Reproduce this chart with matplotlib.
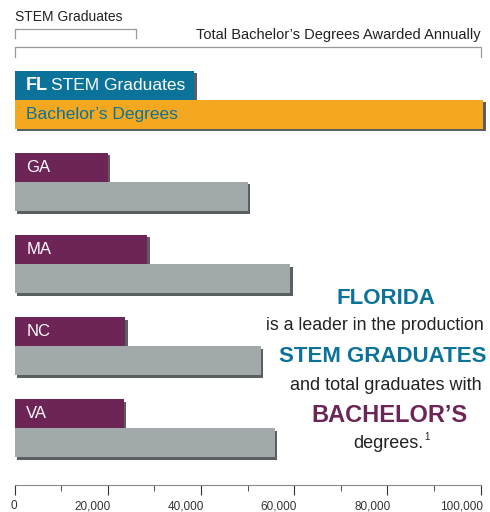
import matplotlib.pyplot as plt
import matplotlib.patheffects as pe
from matplotlib.transforms import blended_transform_factory, ScaledTranslation
from matplotlib.ticker import MultipleLocator, FuncFormatter

plt.rcParams['font.family'] = ['Liberation Sans Narrow', 'Liberation Sans', 'DejaVu Sans']

# data
states = ['FL', 'GA', 'MA', 'NC', 'VA']
stem = [38600, 20000, 28500, 23800, 23400]
bachelors = [100600, 50000, 59200, 52800, 55800]

teal = '#0b7399'
orange = '#f4a81f'
purple = '#6d2557'
gray = '#a2a9ab'
shadow = [pe.SimplePatchShadow(offset=(1.6, -1.6), shadow_rgbFace='#5a5f62', alpha=1), pe.Normal()]

fig = plt.figure(figsize=(4.9, 5.12), dpi=100)
ax = fig.add_axes([14.5 / 490, 1 - 485 / 512, 466 / 490, 425 / 512])

h = 0.354
for i, s in enumerate(states):
    c1 = teal if i == 0 else purple
    c2 = orange if i == 0 else gray
    b1 = ax.barh(i - h / 2, stem[i], height=h, color=c1, clip_on=False)
    b2 = ax.barh(i + h / 2, bachelors[i], height=h, color=c2, clip_on=False)
    for b in list(b1) + list(b2):
        b.set_path_effects(shadow)

ax.text(2500, -h / 2, 'FL', color='white', fontsize=13, fontweight='bold', va='center')
ax.text(7800, -h / 2, 'STEM Graduates', color='white', fontsize=12.5, va='center')
ax.text(2500, h / 2, 'Bachelor\u2019s Degrees', color=teal, fontsize=12.5, va='center')
for i, s in enumerate(states[1:], start=1):
    ax.text(2500, i - h / 2, s, color='white', fontsize=12, va='center')

ax.set_xlim(0, 100000)
ax.set_ylim(4.69, -0.49)
for sp in ['top', 'right', 'left']:
    ax.spines[sp].set_visible(False)
ax.spines['bottom'].set_color('#8a8a8a')
ax.set_yticks([])
ax.xaxis.set_major_locator(MultipleLocator(20000))
ax.xaxis.set_minor_locator(MultipleLocator(10000))
ax.xaxis.set_major_formatter(FuncFormatter(lambda v, p: f'{int(v):,}'))
ax.tick_params(axis='x', which='major', length=7, color='#333333', labelsize=8.5,
               labelcolor='#333333', pad=4)
ax.tick_params(axis='x', which='minor', length=4, color='#333333')
for lab in ax.get_xticklabels():
    lab.set_horizontalalignment('right')
    lab.set_transform(lab.get_transform() + ScaledTranslation(3 / 100, 0, fig.dpi_scale_trans))

# brackets on top
tr = blended_transform_factory(ax.transData, fig.transFigure)
def fy(p):
    return 1 - p / 512
ax.plot([0, 0, 26000, 26000], [fy(38), fy(29), fy(29), fy(38)], transform=tr,
        color='#999999', lw=0.9, clip_on=False)
ax.plot([0, 0, 100000, 100000], [fy(57), fy(47), fy(47), fy(57)], transform=tr,
        color='#999999', lw=0.9, clip_on=False)
ax.text(0, fy(17), 'STEM Graduates', transform=tr, fontsize=10, color='#222222', va='center')
ax.text(100000, fy(35), 'Total Bachelor\u2019s Degrees Awarded Annually', transform=tr,
        fontsize=10.5, color='#222222', va='center', ha='right')

# callout
cx = 386 / 490
fig.text(cx, fy(298), 'FLORIDA', color=teal, fontsize=16, fontweight='bold', ha='center', va='center')
fig.text(375 / 490, fy(326), 'is a leader in the production', color='#222222', fontsize=12.8, ha='center', va='center')
fig.text(383 / 490, fy(356), 'STEM GRADUATES', color=teal, fontsize=16, fontweight='bold', ha='center', va='center')
fig.text(cx, fy(386), 'and total graduates with', color='#222222', fontsize=13, ha='center', va='center')
fig.text(389 / 490, fy(416), 'BACHELOR\u2019S', color=purple, fontsize=17, fontweight='bold', ha='center', va='center')
fig.text(388 / 490, fy(444), 'degrees.', color='#222222', fontsize=13, ha='center', va='center')
fig.text(424.5 / 490, fy(437), '1', color='#222222', fontsize=7, ha='left', va='center')

fig.savefig('out.png', dpi=100)
